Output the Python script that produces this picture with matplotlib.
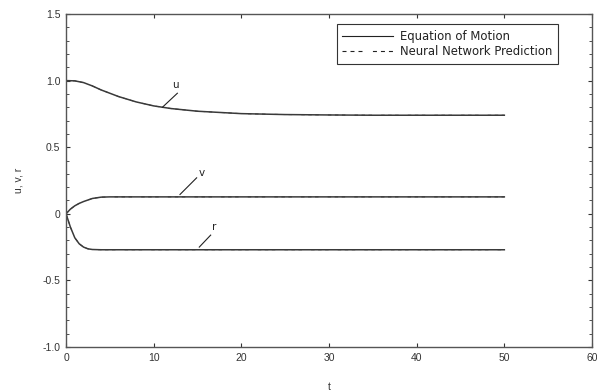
import matplotlib
matplotlib.use("Agg")
import matplotlib.pyplot as plt
from matplotlib.ticker import MultipleLocator

# data
t_u = [0, 1, 2, 3, 4, 5, 6, 8, 10, 12, 15, 20, 25, 30, 35, 40, 45, 50]
u_vals = [1.0, 0.998, 0.985, 0.96, 0.93, 0.905, 0.88, 0.84, 0.81, 0.79, 0.77,
          0.752, 0.745, 0.742, 0.74, 0.74, 0.74, 0.74]

t_v = [0, 0.5, 1, 1.5, 2, 3, 4, 5, 10, 20, 30, 40, 50]
v_vals = [0, 0.035, 0.06, 0.078, 0.092, 0.115, 0.125, 0.127, 0.127, 0.127,
          0.127, 0.127, 0.127]

t_r = [0, 0.25, 0.5, 1, 1.5, 2, 2.5, 3, 4, 10, 20, 30, 40, 50]
r_vals = [0, -0.05, -0.10, -0.18, -0.225, -0.25, -0.263, -0.268, -0.27, -0.27,
          -0.27, -0.27, -0.27, -0.27]

# curve labels: name, text position, leader line (curve end, label end)
labels = [
    ("u", (12.45, 0.965), ((11.0, 0.80), (12.7, 0.905))),
    ("v", (15.5, 0.305), ((13.0, 0.145), (14.9, 0.27))),
    ("r", (16.9, -0.10), ((15.2, -0.25), (16.5, -0.16))),
]

legend_names = ["Equation of Motion", "Neural Network Prediction"]

plt.rcParams["font.family"] = ["Liberation Sans", "DejaVu Sans"]

fig = plt.figure(figsize=(5.97, 3.92), dpi=100)
ax = fig.add_axes([0.1106, 0.1148, 0.881, 0.8495])

col = "#3a3a3a"
dash = (0, (3.6, 3.6, 3.6, 3.6, 3.6, 9.4))
for tt, vv in [(t_u, u_vals), (t_v, v_vals), (t_r, r_vals)]:
    # prediction overlays the equation of motion almost exactly
    ax.plot(tt, vv, color=col, lw=0.7, ls=dash)
    ax.plot(tt, vv, color=col, lw=1.1, ls="-")

for name, pos, seg in labels:
    (x0, y0), (x1, y1) = seg
    ax.plot([x0, x1], [y0, y1], color="#222222", lw=0.8)
    ax.text(pos[0], pos[1], name, fontsize=7.5, ha="center", va="center",
            color="#222222", family="DejaVu Sans")

ax.set_xlim(0, 60)
ax.set_ylim(-1.0, 1.5)
ax.xaxis.set_major_locator(MultipleLocator(10))
ax.yaxis.set_minor_locator(MultipleLocator(0.1))
ax.set_yticks([-1.0, -0.5, 0, 0.5, 1.0, 1.5])
ax.set_yticklabels(["-1.0", "-0.5", "0", "0.5", "1.0", "1.5"])

ax.tick_params(which="both", direction="in", top=True, right=True,
               labelsize=7.5, labelcolor="#333333", color="#333333")
ax.tick_params(which="major", length=3, width=0.8, pad=4)
ax.tick_params(which="minor", length=2, width=0.6)
for s in ax.spines.values():
    s.set_linewidth(1.0)
    s.set_color("#555555")

ax.set_xlabel("t", fontsize=7.5, color="#333333", labelpad=14)
ax.set_ylabel("u, v, r", fontsize=7.5, color="#333333", labelpad=14)

leg_h2, = ax.plot([], [], color="#222222", lw=0.8, ls=dash)
leg_h1, = ax.plot([], [], color="#222222", lw=0.8, ls="-")
leg = ax.legend([leg_h1, leg_h2], legend_names, loc="upper right",
                bbox_to_anchor=(0.935, 0.970), borderaxespad=0, fancybox=False,
                prop={"family": "DejaVu Sans", "size": 8.4},
                handlelength=4.3, handletextpad=0.6,
                borderpad=0.5, labelspacing=0.2, framealpha=1)
leg.get_frame().set_edgecolor("#333333")
leg.get_frame().set_linewidth(0.8)
for txt in leg.get_texts():
    txt.set_color("#222222")

fig.savefig("out.png", dpi=100)
